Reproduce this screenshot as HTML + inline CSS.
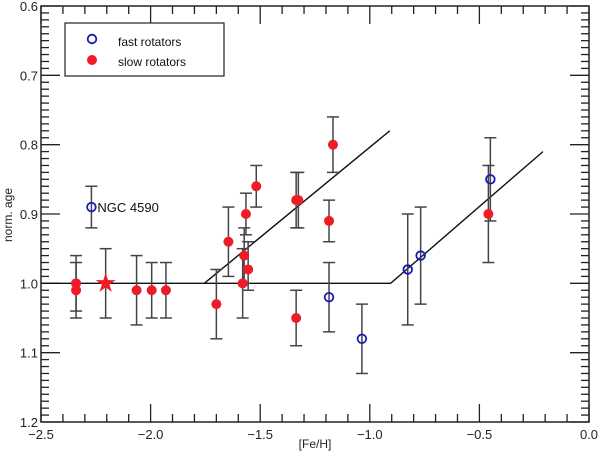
<!DOCTYPE html>
<html><head><meta charset="utf-8"><style>
body{margin:0;background:#fff;}
svg{display:block;font-family:"Liberation Sans",sans-serif;}
</style></head><body>
<svg id="chart" width="600" height="458" viewBox="0 0 600 458"></svg>
<script>
const slowX=[-2.34,-2.34,-2.064,-1.995,-1.93,-1.70,-1.645,-1.58,-1.573,-1.565,-1.555,-1.518,-1.336,-1.326,-1.336,-1.186,-1.168,-0.459];
const slowY=[1.00,1.01,1.01,1.01,1.01,1.03,0.94,1.00,0.96,0.90,0.98,0.86,0.88,0.88,1.05,0.91,0.80,0.90];
const slowLo=[0.96,0.97,0.96,0.97,0.97,0.98,0.89,0.95,0.92,0.87,0.94,0.83,0.84,0.84,1.01,0.88,0.76,0.83];
const slowHi=[1.05,1.04,1.06,1.05,1.05,1.08,0.99,1.05,1.00,0.93,1.01,0.89,0.92,0.92,1.09,0.94,0.84,0.97];
const fastX=[-2.27,-1.186,-1.036,-0.827,-0.768,-0.45];
const fastY=[0.89,1.02,1.08,0.98,0.96,0.85];
const fastLo=[0.86,0.97,1.03,0.90,0.89,0.79];
const fastHi=[0.92,1.07,1.13,1.06,1.03,0.91];
const starX=[-2.205], starY=[1.00], starLo=[0.95], starHi=[1.05];
const fitAX=[-2.5,-0.905,-0.21], fitAY=[1.00,1.00,0.81];
const fitBX=[-1.755,-0.909], fitBY=[1.00,0.78];
const xTicks=[-2.5,-2.0,-1.5,-1.0,-0.5,0.0];
const xTickLabels=["\u22122.5","\u22122.0","\u22121.5","\u22121.0","\u22120.5","0.0"];
const yTicks=[0.6,0.7,0.8,0.9,1.0,1.1,1.2];
const yTickLabels=["0.6","0.7","0.8","0.9","1.0","1.1","1.2"];

const L=41,R=589,T=6,B=422;
const X=v=>L+(v+2.5)/2.5*(R-L);
const Y=v=>T+(v-0.6)/0.6*(B-T);
const svg=document.getElementById('chart');
const NS='http://www.w3.org/2000/svg';
function mk(tag,a,parent){const e=document.createElementNS(NS,tag);for(const k in a)e.setAttribute(k,a[k]);(parent||svg).appendChild(e);return e;}

// frame
let fr=mk('rect',{x:L,y:T,width:R-L,height:B-T,fill:'none',stroke:'#222','stroke-width':1.5});



// ticks
const tg=mk('g',{stroke:'#222','stroke-width':1.3});


for(let i=0;i<=25;i++){const v=-2.5+i*0.1;const px=X(v);const len=(i%5===0)?18:8;
 mk('line',{x1:px,y1:B,x2:px,y2:B-len},tg);mk('line',{x1:px,y1:T,x2:px,y2:T+len},tg);}
for(let i=0;i<=60;i++){const v=0.6+i*0.01;const py=Y(v);const len=(i%10===0)?19:8;
 mk('line',{x1:L,y1:py,x2:L+len,y2:py},tg);mk('line',{x1:R,y1:py,x2:R-len,y2:py},tg);}
xTicks.forEach((v,i)=>{const t=mk('text',{x:X(v),y:B+17,'font-size':13,'text-anchor':'middle',fill:'#222'});t.textContent=xTickLabels[i];
 
 });
yTicks.forEach((v,i)=>{const t=mk('text',{x:L-3,y:Y(v)+5,'font-size':13,'text-anchor':'end',fill:'#222'});t.textContent=yTickLabels[i];
 
 });
let xt=mk('text',{x:315,y:448,'font-size':12,'text-anchor':'middle',fill:'#222'});xt.textContent='[Fe/H]';


let yt=mk('text',{x:0,y:0,'font-size':12,'text-anchor':'middle',fill:'#222',transform:'translate(12,215) rotate(-90)'});yt.textContent='norm. age';



// fit lines
function poly(xs,ys,name){const p=mk('polyline',{points:xs.map((x,i)=>X(x)+','+Y(ys[i])).join(' '),fill:'none',stroke:'#111','stroke-width':1.4});
 
 }
poly(fitAX,fitAY,'fit-line-fast');
poly(fitBX,fitBY,'fit-line-slow');

// error bars
function err(xs,lo,hi){xs.forEach((x,i)=>{const g=mk('g',{stroke:'#444','stroke-width':1.5});
 
 
 const px=X(x);mk('line',{x1:px,y1:Y(lo[i]),x2:px,y2:Y(hi[i])},g);
 mk('line',{x1:px-6,y1:Y(lo[i]),x2:px+6,y2:Y(lo[i])},g);mk('line',{x1:px-6,y1:Y(hi[i]),x2:px+6,y2:Y(hi[i])},g);});}
err(slowX,slowLo,slowHi);err(fastX,fastLo,fastHi);err(starX,starLo,starHi);

slowX.forEach((x,i)=>{const c=mk('circle',{cx:X(x),cy:Y(slowY[i]),r:5,fill:'#ee1c25'});
 
 });
fastX.forEach((x,i)=>{const c=mk('circle',{cx:X(x),cy:Y(fastY[i]),r:4.3,fill:'none',stroke:'#1a1aba','stroke-width':1.8});
 
 });
starX.forEach((x,i)=>{const cx=X(x),cy=Y(starY[i]);let pts=[];
 for(let k=0;k<10;k++){const r=k%2?4:10.5;const a=-Math.PI/2+k*Math.PI/5;pts.push((cx+r*Math.cos(a))+','+(cy+r*Math.sin(a)));}
 const s=mk('polygon',{points:pts.join(' '),fill:'#ee1c25'});
 
 });
let ng=mk('text',{x:X(fastX[0])+6,y:Y(fastY[0])+5,'font-size':13,fill:'#111'});ng.textContent='NGC 4590';



// legend
const lg=mk('g',{});


mk('rect',{x:65,y:23,width:159,height:53,fill:'#fff',stroke:'#222','stroke-width':1.2},lg);
const le1=mk('g',{},lg);


mk('circle',{cx:92,cy:39,r:4.3,fill:'none',stroke:'#1a1aba','stroke-width':1.8},le1);
let t1=mk('text',{x:118,y:46,'font-size':12,fill:'#111'},le1);t1.textContent='fast rotators';
const le2=mk('g',{},lg);


mk('circle',{cx:92,cy:60,r:5,fill:'#ee1c25'},le2);
let t2=mk('text',{x:118,y:66,'font-size':12,fill:'#111'},le2);t2.textContent='slow rotators';
</script>
</body></html>
